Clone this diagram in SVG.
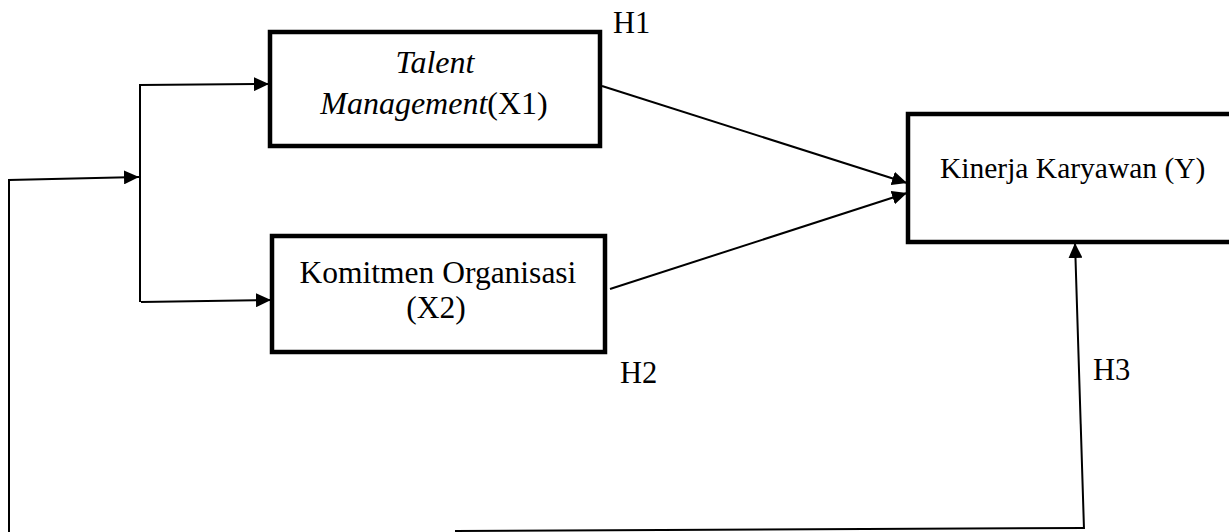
<svg xmlns="http://www.w3.org/2000/svg" width="1229" height="532" viewBox="0 0 1229 532">
<style>
.box{fill:#fff;stroke:#000;stroke-width:4.5}
.t{font-family:"Liberation Serif","Times New Roman",serif;fill:#000}
.c{fill:none;stroke:#000;stroke-width:2}
.a{marker-end:url(#ah)}
</style>
<defs>
<marker id="ah" markerUnits="userSpaceOnUse" markerWidth="16" markerHeight="14" refX="15" refY="7" orient="auto">
<path d="M0,0 L15,7 L0,14 Z" fill="#000"/>
</marker>
</defs>
<rect width="1229" height="532" fill="#fff"/>
<g id="connectors">
<polyline class="c a" points="9,532 9,180 139,177"/>
<line class="c" x1="140" y1="84" x2="140" y2="302"/>
<line class="c a" x1="140" y1="85" x2="269" y2="84"/>
<line class="c a" x1="141" y1="302" x2="271" y2="300"/>
<line class="c a" x1="602" y1="86" x2="907" y2="183"/>
<line class="c a" x1="610" y1="289" x2="907" y2="193"/>
<line class="c" x1="455" y1="531" x2="1084" y2="528"/>
<line class="c a" x1="1084" y1="529" x2="1075" y2="243"/>
</g>
<g id="x1">
<rect class="box" x="270" y="32" width="330" height="114"/>
<text class="t" x="435" y="73" font-size="32" font-style="italic" text-anchor="middle">Talent</text>
<text class="t" x="434" y="114" font-size="32" text-anchor="middle"><tspan font-style="italic">Management</tspan>(X1)</text>
</g>
<g id="x2">
<rect class="box" x="272" y="236" width="333" height="116"/>
<text class="t" x="438" y="283" font-size="31.5" text-anchor="middle">Komitmen Organisasi</text>
<text class="t" x="436" y="318" font-size="31.5" text-anchor="middle">(X2)</text>
</g>
<g id="y">
<rect class="box" x="908" y="114" width="340" height="128"/>
<text class="t" x="940" y="178" font-size="29.5">Kinerja Karyawan (Y)</text>
</g>
<g id="labels">
<text class="t" x="613" y="33" font-size="30.5">H1</text>
<text class="t" x="620" y="383" font-size="30.5">H2</text>
<text class="t" x="1093" y="380" font-size="30.5">H3</text>
</g>
</svg>
